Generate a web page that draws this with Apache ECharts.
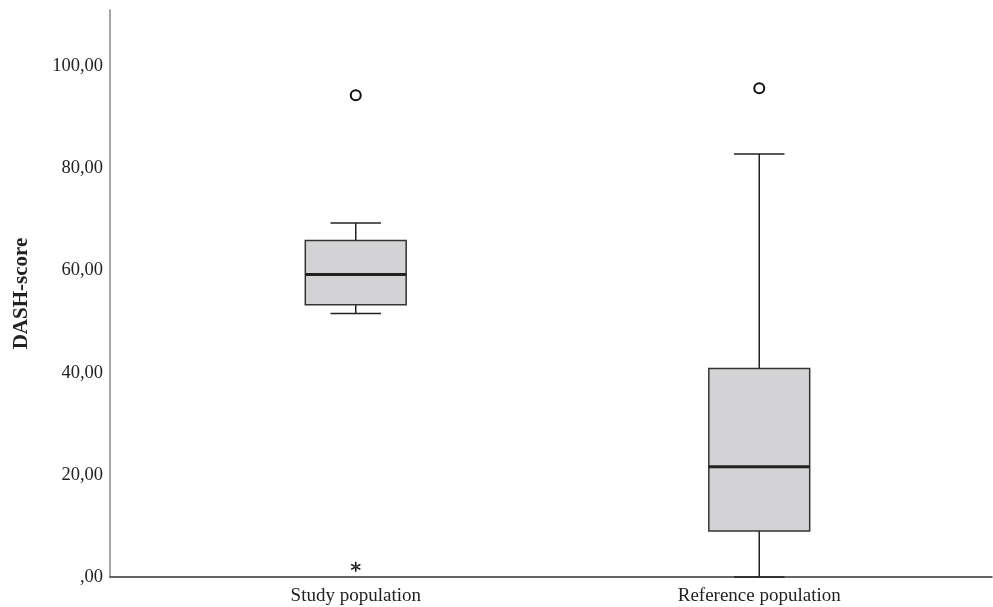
<!DOCTYPE html>
<html>
<head>
<meta charset="utf-8">
<script src="https://cdn.jsdelivr.net/npm/echarts@6/dist/echarts.min.js"></script>
<style>
html,body{margin:0;padding:0;background:#fff;}
#chart{width:993px;height:607px;}
</style>
</head>
<body>
<div id="chart"></div>
<script>
var categories = ['Study population', 'Reference population'];
var lowerWhisker = [51.6, 0.0];
var q1 = [53.3, 9.0];
var median = [59.2, 21.6];
var q3 = [65.9, 40.8];
var upperWhisker = [69.3, 82.8];
var outliers = [[0, 94.3], [1, 95.7]];
var extremes = [[0, 2.0]];
var yTicks = [0, 20, 40, 60, 80, 100];

var boxRows = categories.map(function (c, i) {
  return [i, lowerWhisker[i], q1[i], median[i], q3[i], upperWhisker[i]];
});

var FONT = '"Liberation Serif", "Times New Roman", serif';
var chart = echarts.init(document.getElementById('chart'));

var asterisk = 'path://M4.3 0L5.7 0L5.7 10L4.3 10Z' +
  'M9.68 3.11L8.98 1.89L0.32 6.89L1.02 8.11Z' +
  'M0.32 3.11L1.02 1.89L9.68 6.89L8.98 8.11Z';

chart.setOption({
  animation: false,
  backgroundColor: '#fff',
  grid: [
    { left: 154, right: 32, top: 10, bottom: 30 },
    { left: 110, right: 1, top: 10, bottom: 30 }
  ],
  xAxis: [
    {
      type: 'category', gridIndex: 0, data: categories,
      axisLine: { show: false }, axisTick: { show: false },
      axisLabel: { fontFamily: FONT, fontSize: 19, color: '#222', margin: 10 },
      splitLine: { show: false }
    },
    {
      type: 'value', gridIndex: 1, min: 0, max: 1,
      axisLine: { show: true, lineStyle: { color: '#333', width: 1.5 } },
      axisTick: { show: false }, axisLabel: { show: false }, splitLine: { show: false }
    }
  ],
  yAxis: [
    { type: 'value', gridIndex: 0, min: 0, max: 111, show: false, splitLine: { show: false } },
    {
      type: 'value', gridIndex: 1, min: 0, max: 111, interval: 20,
      name: 'DASH-score', nameLocation: 'middle', nameGap: 78,
      nameTextStyle: { fontFamily: FONT, fontSize: 21, fontWeight: 'bold', color: '#222' },
      axisLine: { show: true, lineStyle: { color: '#888', width: 1.5 } },
      axisTick: { show: false },
      splitLine: { show: false },
      axisLabel: {
        fontFamily: FONT, fontSize: 18.5, color: '#222', margin: 7, showMaxLabel: false,
        formatter: function (v) {
          if (yTicks.indexOf(v) < 0) return '';
          return v === 0 ? ',00' : v.toFixed(2).replace('.', ',');
        }
      }
    }
  ],
  series: [
    {
      type: 'custom', xAxisIndex: 0, yAxisIndex: 0,
      data: boxRows,
      encode: { x: 0, y: [1, 2, 3, 4, 5] },
      clip: false,
      renderItem: function (params, api) {
        var i = api.value(0);
        var lo = api.coord([i, api.value(1)]);
        var b1 = api.coord([i, api.value(2)]);
        var md = api.coord([i, api.value(3)]);
        var b3 = api.coord([i, api.value(4)]);
        var hi = api.coord([i, api.value(5)]);
        var band = api.size([1, 0])[0];
        var bw = band * 0.25, cw = band * 0.125;
        var x = lo[0];
        var ls = { stroke: '#222', lineWidth: 1.5 };
        return {
          type: 'group',
          children: [
            { type: 'line', shape: { x1: x, y1: hi[1], x2: x, y2: b3[1] }, style: ls },
            { type: 'line', shape: { x1: x, y1: b1[1], x2: x, y2: lo[1] }, style: ls },
            { type: 'line', shape: { x1: x - cw / 2, y1: hi[1], x2: x + cw / 2, y2: hi[1] }, style: ls },
            { type: 'line', shape: { x1: x - cw / 2, y1: lo[1], x2: x + cw / 2, y2: lo[1] }, style: ls },
            { type: 'rect', shape: { x: x - bw / 2, y: b3[1], width: bw, height: b1[1] - b3[1] },
              style: { fill: '#d3d3d5', stroke: '#333', lineWidth: 1.5 } },
            { type: 'line', shape: { x1: x - bw / 2, y1: md[1], x2: x + bw / 2, y2: md[1] },
              style: { stroke: '#222', lineWidth: 3 } }
          ]
        };
      }
    },
    {
      type: 'scatter', xAxisIndex: 0, yAxisIndex: 0,
      data: outliers, symbol: 'emptyCircle', symbolSize: 10,
      itemStyle: { color: '#111', borderColor: '#111', borderWidth: 1.5, opacity: 1 }
    },
    {
      type: 'scatter', xAxisIndex: 0, yAxisIndex: 0,
      data: extremes, symbol: asterisk, symbolSize: 10,
      itemStyle: { color: '#111', opacity: 1 }
    }
  ]
});
</script>
</body>
</html>
